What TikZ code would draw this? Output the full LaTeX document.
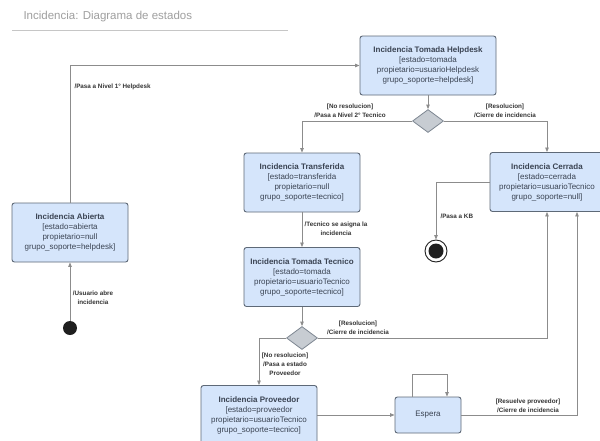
\documentclass[tikz,border=0pt]{standalone}
\usepackage{fontspec}
\setmainfont{Liberation Sans}
\usetikzlibrary{shapes.geometric,arrows.meta}
\definecolor{boxfill}{HTML}{D5E5FB}
\definecolor{boxline}{HTML}{5E6977}
\definecolor{wire}{HTML}{8C8C8C}
\definecolor{txt}{HTML}{3A4352}
\definecolor{diafill}{HTML}{C7CCD2}

\begin{document}
\begin{tikzpicture}[x=1pt,y=-1pt]
	\tikzstyle{st}=[rectangle, rounded corners=2.5pt, draw=boxline, line width=0.9pt, fill=boxfill, minimum width=116pt, minimum height=59pt, inner sep=0pt, align=center, text=txt, font=\fontsize{8}{10}\selectfont]
	\tikzstyle{dec}=[diamond, draw=boxline!80, line width=0.8pt, fill=diafill, minimum width=31pt, minimum height=23pt, inner sep=0pt]
	\tikzstyle{lbl}=[align=center, text=black!80, font=\fontsize{6.3}{9}\selectfont\bfseries]
	\tikzstyle{e}=[draw=wire, line width=0.8pt, -{Triangle[length=4.5pt,width=3.5pt]}]

	\useasboundingbox[fill=white] (0,0) rectangle (600,440);

	% titulo
	\node[anchor=west, text=gray!75, font=\fontsize{11.5}{13}\selectfont] (titulo) at (20,17) {Incidencia: Diagrama de estados};
	\draw[gray!45, line width=0.8pt] (12,30) -- (288,30);

	% estados
	\node[st] (ab) at (70,232.5) {\textbf{Incidencia Abierta}\\{[}estado=abierta\\propietario=null\\grupo\_soporte=helpdesk]};
	\node[st, minimum width=136pt] (hd) at (428,65.5) {\textbf{Incidencia Tomada Helpdesk}\\{[}estado=tomada\\propietario=usuarioHelpdesk\\grupo\_soporte=helpdesk]};
	\node[st] (tr) at (302,182.5) {\textbf{Incidencia Transferida}\\{[}estado=transferida\\propietario=null\\grupo\_soporte=tecnico]};
	\node[st] (tt) at (302,277) {\textbf{Incidencia Tomada Tecnico}\\{[}estado=tomada\\propietario=usuarioTecnico\\grupo\_soporte=tecnico]};
	\node[st, minimum width=114pt] (ce) at (547,182) {\textbf{Incidencia Cerrada}\\{[}estado=cerrada\\propietario=usuarioTecnico\\grupo\_soporte=null]};
	\node[st] (pv) at (259,415) {\textbf{Incidencia Proveedor}\\{[}estado=proveedor\\propietario=usuarioTecnico\\grupo\_soporte=tecnico]};
	\node[st, minimum width=66pt, minimum height=36pt] (es) at (428,415) {Espera};

	\node[dec] (d1) at (428,121) {};
	\node[dec] (d2) at (302,338) {};

	\node[circle, fill=black!88, minimum size=14pt, inner sep=0pt] (ini) at (70,328) {};
	\node[circle, draw=black!88, line width=0.9pt, fill=white, minimum size=22pt, inner sep=0pt] (fin) at (436,251) {};
	\fill[black!88] (fin.center) circle (7.5pt);

	% transiciones
	\draw[e] (ini) -- (ab);
	\draw[e] (ab) |- (hd);
	\draw[e] (hd) -- (d1);
	\draw[e] (d1) -| (tr);
	\draw[e] (d1) -| (ce);
	\draw[e] (tr) -- (tt);
	\draw[e] (tt) -- (d2);
	\draw[e] (d2) -| (ce);
	\draw[e] (d2) -| (pv);
	\draw[e] (pv) -- (es);
	\draw[e] ([xshift=-16pt]es.north) -- ++(0,-22) -| ([xshift=19pt]es.north);
	\draw[e] (es) -| ([xshift=30pt]ce.south);
	\draw[e] (ce) -| (fin);

	% etiquetas
	\node[lbl] (l1) at (93,298) {/Usuario abre\\incidencia};
	\node[lbl, anchor=west] (l2) at (71,87) {/Pasa a Nivel 1° Helpdesk};
	\node[lbl] (l3) at (350,110.5) {[No resolucion]\\/Pasa a Nivel 2° Tecnico};
	\node[lbl] (l4) at (505,110.5) {[Resolucion]\\/Cierre de incidencia};
	\node[lbl] (l5) at (336,229) {/Tecnico se asigna la\\incidencia};
	\node[lbl] (l6) at (358,327.5) {[Resolucion]\\/Cierre de incidencia};
	\node[lbl] (l7) at (285,364) {[No resolucion]\\/Pasa a estado\\Proveedor};
	\node[lbl] (l8) at (528,406) {[Resuelve proveedor]\\/Cierre de incidencia};
	\node[lbl, anchor=west] (l9) at (437,216) {/Pasa a KB};
\end{tikzpicture}
\end{document}
